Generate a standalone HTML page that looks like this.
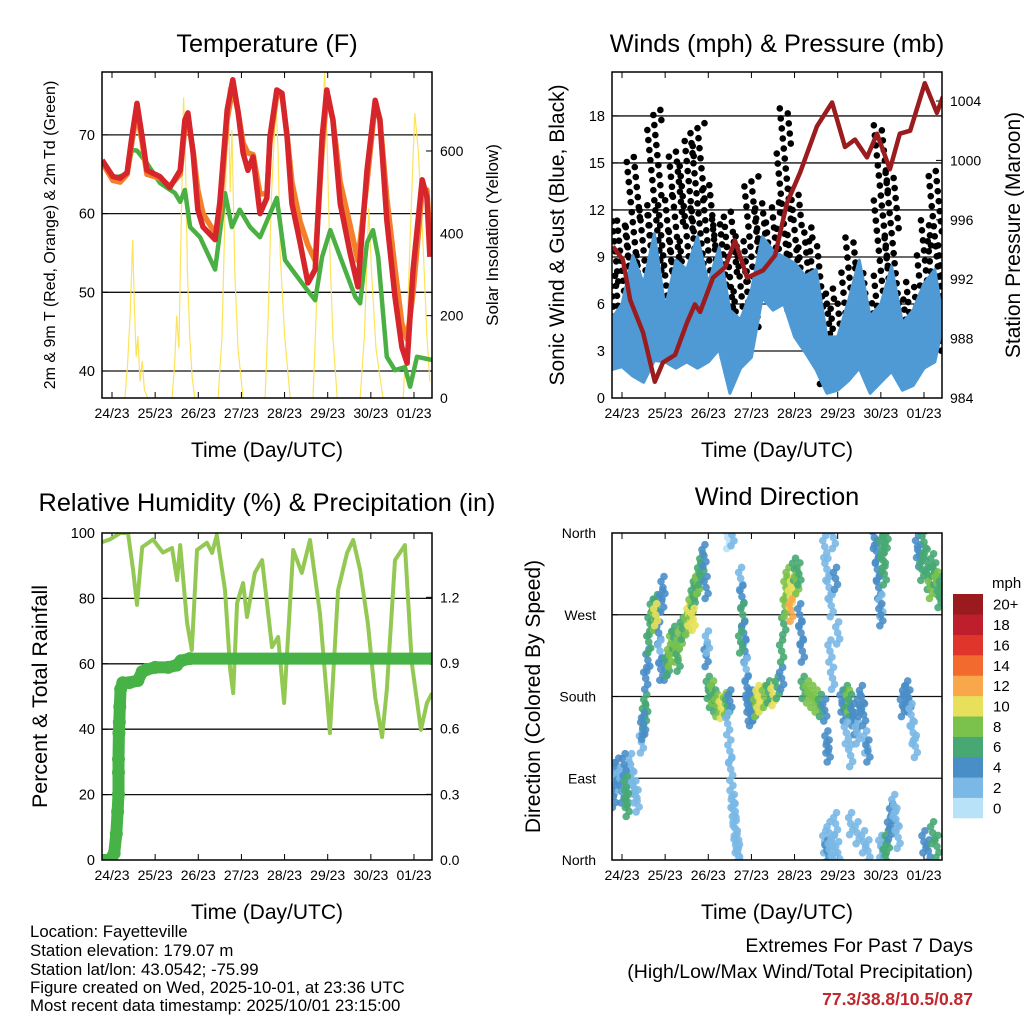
<!DOCTYPE html>
<html><head><meta charset="utf-8"><style>
html,body{margin:0;padding:0;background:#fff;}
svg{display:block;font-family:"Liberation Sans",Arial,sans-serif;}
</style></head><body>
<svg id="page" width="1024" height="1024" viewBox="0 0 1024 1024" xmlns="http://www.w3.org/2000/svg">
<defs>
<clipPath id="c1"><rect x="102" y="72" width="330" height="326"/></clipPath>
<clipPath id="c2"><rect x="612" y="72" width="330" height="326"/></clipPath>
<clipPath id="c3"><rect x="102" y="533" width="330" height="327"/></clipPath>
<clipPath id="c4"><rect x="612" y="533" width="330" height="327"/></clipPath>
</defs>
<rect width="1024" height="1024" fill="#fff"/>
<g id="layer"></g>
<g font-size="16.8" fill="#000">
<text x="30" y="937">Location: Fayetteville</text>
<text x="30" y="956">Station elevation: 179.07 m</text>
<text x="30" y="975">Station lat/lon: 43.0542; -75.99</text>
<text x="30" y="993">Figure created on Wed, 2025-10-01, at 23:36 UTC</text>
<text x="30" y="1011">Most recent data timestamp: 2025/10/01 23:15:00</text>
</g>
<g font-size="19.5" text-anchor="end">
<text x="973" y="952">Extremes For Past 7 Days</text>
<text x="973" y="978">(High/Low/Max Wind/Total Precipitation)</text>
<text x="973" y="1005" fill="#c0282d" font-weight="bold" font-size="17.5">77.3/38.8/10.5/0.87</text>
</g>
</svg>
<script>
// ---------- data ----------
const dayTicks = ['24/23','25/23','26/23','27/23','28/23','29/23','30/23','01/23'];
// Temperature (days since 24/23, degF)
const tempT = [-0.23,0.02,0.19,0.35,0.46,0.58,0.70,0.81,1.11,1.34,1.58,1.69,1.76,1.88,1.99,2.11,2.39,2.50,2.67,2.80,2.92,3.04,3.15,3.27,3.43,3.59,3.66,3.82,3.94,4.06,4.17,4.36,4.54,4.71,4.87,4.98,5.12,5.29,5.52,5.70,5.91,6.10,6.21,6.37,6.56,6.72,6.84,6.98,7.19,7.30,7.37];
const temp2m = [66.8,64.7,64.5,65.2,69.7,74,69.7,65.5,64.7,63.3,65.5,71.9,72.8,67.7,60.5,58.3,56.7,61.4,73.2,77,73,67.7,65.5,67.2,60,62,69.7,75.7,75.3,69.7,61.3,56.3,51.2,52.9,69.7,75.7,71.9,61.3,55,50.7,65.5,74.4,71.9,59.2,49.4,43,41,52.9,64.3,62.1,54.5];
const temp9m = [66.5,64.2,64.0,65,69,73,69,65,64.5,63.5,65,71,72,68,63,60,57.5,60,72,76,73,69,67.7,67.5,62.5,62.5,69,75,75,70,64,59,56,54,68,75,72,64,58.5,54,64,74,72,62,53,46,44,50,63,63,57];
const dewT = [-0.23,0.02,0.35,0.46,0.58,0.81,1.11,1.46,1.58,1.69,1.81,2.04,2.39,2.62,2.78,2.96,3.2,3.43,3.82,4.01,4.17,4.47,4.71,4.87,5.06,5.29,5.64,5.75,5.91,6.05,6.17,6.37,6.56,6.79,6.91,7.07,7.42];
const dewF = [66.4,64.5,65,68.1,68,66.4,63.9,62.6,61.5,63,58.3,57,52.9,62.6,58.3,60.5,58.3,57,62,54.1,52.9,50.7,49,54.5,57.9,54.5,49.4,48.6,56.3,57.9,54.5,41.8,40.1,40.5,38,41.8,41.4];
const solarT = [-0.23,0.3,0.36,0.42,0.48,0.52,0.56,0.6,0.65,0.7,0.75,0.83,1.39,1.45,1.5,1.55,1.6,1.66,1.7,1.75,1.8,1.86,1.92,2.46,2.55,2.62,2.69,2.74,2.78,2.85,2.92,3.04,3.55,3.62,3.7,3.8,3.85,3.9,4.0,4.13,4.66,4.75,4.85,4.93,4.98,5.05,5.12,5.22,5.75,5.85,5.95,6.02,6.12,6.28,6.75,6.85,6.95,7.02,7.1,7.2,7.3,7.37];
const solarW = [0,0,80,200,384,220,100,150,40,90,20,0,0,80,200,120,400,730,600,300,150,50,0,0,150,450,755,500,650,300,120,0,0,200,500,716,600,350,150,0,0,250,600,790,650,350,150,0,0,150,460,300,120,0,0,200,500,692,600,400,150,40];
// Winds (6-hourly, mph)
const windT = [-0.25,0,0.25,0.5,0.75,1,1.25,1.5,1.75,2,2.25,2.5,2.75,3,3.25,3.5,3.75,4,4.25,4.5,4.75,5,5.25,5.5,5.75,6,6.25,6.5,6.75,7,7.25,7.4];
const windMax = [5,6,9.1,7.3,10.5,5.7,8.8,8.2,10.3,7.3,9.6,5.6,5,6.9,10.3,9.4,9,8.6,7.8,8.2,3.9,3.9,6.2,8.8,5.2,6,8.4,4.8,5.6,7.3,8.2,5.7];
const windMin = [1.8,2,1.4,1,2.4,2.3,1.9,2.3,1.9,2.3,3.1,0.3,1.9,2.6,6.4,5.6,6,3.9,2.9,1.8,0.3,0.5,1.1,1.9,0.3,1,1.7,0.5,0.8,1.9,2.3,4.2];
const gustMax = [11.4,11.6,15.6,12,18.6,13.1,15.8,16.7,17.7,13.9,11.6,12,10.5,14.4,12.6,12.8,18.8,13.3,11.2,10.3,7.3,6.2,10.3,8.4,6.4,17.7,14.6,6.4,7.7,11.4,14.6,10.3];
const presT = [-0.21,0.02,0.19,0.49,0.76,0.95,1.23,1.51,1.69,1.81,2.11,2.39,2.62,2.90,3.27,3.55,3.82,4.13,4.52,4.87,5.17,5.40,5.68,5.91,6.21,6.44,6.68,7.02,7.30,7.44];
const presMb = [994.2,993.3,990.6,988.4,985.1,986.4,986.9,989.1,990.3,989.8,992.1,992.8,994.6,992.1,992.6,993.6,997.1,999.2,1002.3,1003.9,1000.9,1001.4,1000.2,1001.8,999.4,1001.8,1002,1005.2,1003.2,1004.3];
// RH & precip
const rhT = [-0.28,-0.05,0.19,0.37,0.49,0.58,0.7,0.95,1.18,1.39,1.51,1.58,1.74,1.85,1.97,2.2,2.32,2.43,2.62,2.74,2.81,2.9,3.04,3.13,3.31,3.48,3.71,3.85,3.99,4.2,4.4,4.59,4.82,5.05,5.24,5.45,5.59,5.75,5.93,6.1,6.26,6.37,6.56,6.79,6.95,7.16,7.3,7.42];
const rhPct = [97,98,100,100,88.7,78,95.7,98,94,95.4,85.6,96.3,72.5,64.2,94.8,97,93.9,99.4,82.6,58.1,51,78.6,84.7,74.3,87.8,91.7,65.1,68.2,48,94.8,87.8,97.9,75.5,38.8,82.6,93.9,97.9,88.7,72.5,49.8,37.6,52,91.7,96.3,60.2,39.8,48,51];
const rainT = [-0.28,-0.05,0.05,0.1,0.13,0.15,0.15,0.15,0.16,0.17,0.18,0.2,0.25,0.4,0.6,0.7,0.8,1.0,1.3,1.5,1.6,1.8,7.42];
const rainIn = [0,0,0.03,0.12,0.22,0.3,0.40,0.46,0.58,0.63,0.70,0.78,0.81,0.81,0.82,0.86,0.87,0.88,0.88,0.89,0.91,0.92,0.92];
// Wind direction points: time (days), direction (deg), speed (mph)
const dirT = [-0.25,-0.2,-0.15,-0.1,-0.05,0,0.05,0.1,0.12,0.15,0.2,0.25,0.3,0.35,0.05,-0.2,0.1,0.45,0.48,0.52,0.55,0.5,0.55,0.6,0.62,0.65,0.7,0.75,0.8,0.85,0.88,0.9,0.92,0.95,0.78,1.0,1.05,1.1,1.15,1.2,1.25,1.3,1.35,1.4,1.5,1.55,1.6,1.65,1.7,1.75,1.8,1.85,1.9,1.95,1.65,2.0,2.05,2.1,2.15,2.2,2.3,2.4,2.45,2.5,1.95,1.98,2.45,2.5,2.52,2.55,2.6,2.62,2.65,2.68,2.7,2.58,2.45,2.55,2.75,2.78,2.8,2.82,2.85,2.88,2.9,2.92,2.95,2.98,2.75,3.0,3.05,3.1,3.15,3.2,3.3,3.4,3.5,3.6,3.7,3.7,3.75,3.78,3.8,3.85,3.9,3.95,4.0,4.05,4.1,3.92,4.12,4.15,4.18,4.2,4.3,4.4,4.5,4.6,4.7,4.75,4.78,4.7,4.75,4.8,4.85,4.9,4.95,5.0,4.82,4.88,4.7,4.75,4.8,4.85,4.9,4.95,5.0,5.1,5.15,5.2,5.25,5.3,5.35,5.4,5.45,5.5,5.55,5.6,5.65,5.7,5.2,5.3,5.3,5.45,5.6,5.7,5.85,5.9,5.92,5.95,6.0,6.02,6.05,6.08,6.1,6.12,6.0,6.0,6.05,6.1,6.15,6.2,6.25,6.3,6.35,6.4,6.5,6.55,6.6,6.65,6.7,6.75,6.8,6.85,6.9,6.95,7.0,7.05,7.1,7.15,7.2,7.25,7.3,7.35,7.4,7.0,7.1,7.2,7.3];
const dirDeg = [80,95,85,100,90,75,88,70,60,95,105,85,75,65,105,70,80,130,145,160,170,150,200,220,240,260,275,265,280,250,230,210,285,300,270,210,215,225,240,245,230,220,245,255,260,270,280,290,300,305,315,325,335,300,265,190,180,185,175,170,168,172,170,175,225,240,150,120,100,70,50,35,20,10,5,60,355,358,310,290,270,250,230,210,190,175,165,160,240,175,165,170,180,175,180,185,182,190,200,230,260,280,300,310,290,300,320,305,315,275,270,250,230,190,185,180,175,170,165,130,120,345,320,300,280,355,310,250,230,200,20,10,30,5,15,40,8,175,165,180,175,170,160,150,140,170,180,160,130,120,140,115,40,30,20,10,355,340,320,300,280,345,330,315,350,360,270,15,10,5,20,35,50,60,45,25,170,180,185,175,160,140,125,345,335,320,350,330,310,300,325,315,305,290,300,20,10,30,15];
const dirSpd = [3,4,2,4,3,4,2,6,6,3,2,3,2,2,4,4,6,2,4,6,6,4,4,4,6,6,6,8,6,4,2,4,4,4,10,4,6,8,8,6,8,6,8,6,8,10,8,6,6,8,6,6,4,4,10,6,6,8,6,8,10,8,6,4,4,2,2,2,2,2,2,3,3,2,3,2,1,2,2,4,6,4,4,2,4,4,4,4,6,4,4,8,10,10,8,6,10,6,4,6,6,8,8,8,10,10,6,8,6,12,4,4,4,6,8,8,8,6,4,4,4,2,2,2,2,2,4,2,2,2,2,4,2,3,2,2,3,4,4,6,8,6,4,4,2,4,4,4,2,4,3,2,2,2,2,2,4,4,4,4,3,6,6,6,6,6,4,2,3,6,6,4,4,3,2,3,4,4,4,4,3,2,2,4,4,6,6,6,6,8,6,6,8,6,6,4,4,6,6];
// colorbar
const cbLabels = ['0','2','4','6','8','10','12','14','16','18','20+'];
const cbColors = ['#b8e2f8','#7ab8e5','#4a8ec8','#47a874','#7bc24c','#e8e05a','#f8a84a','#f26a2d','#e0352b','#bf1e2d','#9b1a1e'];

// ---------- helpers ----------
const NS='http://www.w3.org/2000/svg';
const layer=document.getElementById('layer');
function mk(tag,attrs,parent){const e=document.createElementNS(NS,tag);for(const k in attrs)e.setAttribute(k,attrs[k]);(parent||layer).appendChild(e);return e;}
const PXD=43.14;
function xL(d){return 112+d*PXD;}
function xR(d){return 622+d*PXD;}
const yTemp=v=>371-(v-40)*7.87;
const ySolar=v=>398-v*0.4117;
const yWind=v=>398-v*15.67;
const yPres=v=>398-(v-984)*14.85;
const yRH=v=>860-v*3.27;
const yRain=v=>860-v*218.9;
const yDir=v=>860-v*(327/360);
function pathOf(ts,vs,fx,fy){return ts.map((t,i)=>(i?'L':'M')+fx(t).toFixed(1)+','+fy(vs[i]).toFixed(1)).join(' ');}

function panel(opts){
  const g=mk('g',{});
  
  
  const {L,T,R,B}=opts;
  opts.grid.forEach(y=>{const l=mk('line',{x1:L,x2:R,y1:y,y2:y,stroke:'#111','stroke-width':1.3},g);
    });
  const t=mk('text',{x:(L+R)/2,y:opts.titleY,'text-anchor':'middle','font-size':25.3},g);t.textContent=opts.title;
  
  const xt=mk('text',{x:(L+R)/2,y:B+59,'text-anchor':'middle','font-size':21},g);xt.textContent='Time (Day/UTC)';
  
  dayTicks.forEach((lab,i)=>{const x=opts.fx(i);
    mk('line',{x1:x,x2:x,y1:B,y2:B-6,stroke:'#000'},g);mk('line',{x1:x,x2:x,y1:T,y2:T+6,stroke:'#000'},g);
    const tx=mk('text',{x:x,y:B+20,'text-anchor':'middle','font-size':14},g);tx.textContent=lab;
    });
  opts.lt.forEach(([v,lab])=>{const y=opts.fyl(v);
    mk('line',{x1:L,x2:L+6,y1:y,y2:y,stroke:'#000'},g);
    const tx=mk('text',{x:L-(opts.ltGap||7),y:y+5,'text-anchor':'end','font-size':opts.ltSize||14.5},g);tx.textContent=lab;
    });
  if(opts.rt) opts.rt.forEach(([v,lab])=>{const y=opts.fyr(v);
    mk('line',{x1:R,x2:R-6,y1:y,y2:y,stroke:'#000'},g);
    const tx=mk('text',{x:R+8,y:y+5,'text-anchor':'start','font-size':14},g);tx.textContent=lab;
    });
  const yl=mk('text',{transform:`translate(${opts.ylX},${(T+B)/2}) rotate(-90)`,'text-anchor':'middle','font-size':opts.ylSize},g);yl.textContent=opts.yl;
  
  if(opts.yr){const yr=mk('text',{transform:`translate(${opts.yrX},${(T+B)/2}) rotate(-90)`,'text-anchor':'middle','font-size':opts.yrSize},g);yr.textContent=opts.yr;
    }
  const data=mk('g',{'clip-path':`url(#${opts.clip})`},g);
  
  return {g,data};
}
function frame(g,L,T,R,B){const f=mk('rect',{x:L,y:T,width:R-L,height:B-T,fill:'none',stroke:'#000','stroke-width':1.5},g);
  }

// ---------- Panel 1: temperature ----------
{
const p=panel({name:'temperature-panel',L:102,T:72,R:432,B:398,clip:'c1',title:'Temperature (F)',titleY:52,fx:xL,
  grid:[40,50,60,70].map(yTemp),fyl:yTemp,lt:[[40,'40'],[50,'50'],[60,'60'],[70,'70']],
  fyr:ySolar,rt:[[0,'0'],[200,'200'],[400,'400'],[600,'600']],
  yl:'2m & 9m T (Red, Orange) & 2m Td (Green)',ylX:55,ylSize:16,yr:'Solar Insolation (Yellow)',yrX:498,yrSize:17});
const s=mk('path',{d:pathOf(solarT,solarW,xL,ySolar),fill:'none',stroke:'#fde35a','stroke-width':1.2},p.data);

const dw=mk('path',{d:pathOf(dewT,dewF,xL,yTemp),fill:'none',stroke:'#4bb043','stroke-width':4.5,'stroke-linejoin':'round'},p.data);

const o=mk('path',{d:pathOf(tempT,temp9m,xL,yTemp),fill:'none',stroke:'#f47f2a','stroke-width':5.5,'stroke-linejoin':'round'},p.data);

const r=mk('path',{d:pathOf(tempT,temp2m,xL,yTemp),fill:'none',stroke:'#d6252b','stroke-width':5.5,'stroke-linejoin':'round'},p.data);

frame(p.g,102,72,432,398);
}
// ---------- Panel 2: winds ----------
{
const p=panel({name:'winds-panel',L:612,T:72,R:942,B:398,clip:'c2',title:'Winds (mph) & Pressure (mb)',titleY:52,fx:xR,
  grid:[3,6,9,12,15,18].map(yWind),fyl:yWind,lt:[0,3,6,9,12,15,18].map(v=>[v,String(v)]),
  fyr:yPres,rt:[984,988,992,996,1000,1004].map(v=>[v,String(v)]),
  yl:'Sonic Wind & Gust (Blue, Black)',ylX:564,ylSize:21,yr:'Station Pressure (Maroon)',yrX:1020,yrSize:21});
windT.forEach((t,i)=>{
  const lo=Math.min(windMax[i],gustMax[i])-3;
  let j=0;
  for(let v=lo;v<=gustMax[i];v+=0.32){
    const c=mk('circle',{cx:xR(t)+((j*7)%15-7),cy:yWind(v),r:3.3,fill:'#000'},p.data);
    j++;}
});
const top=windT.map((t,i)=>[xR(t),yWind(windMax[i])]);
const bot=windT.map((t,i)=>[xR(t),yWind(windMin[i])]).reverse();
const wb=mk('path',{d:'M'+top.concat(bot).map(p=>p[0].toFixed(1)+','+p[1].toFixed(1)).join(' L')+'Z',fill:'#4f9ad4',stroke:'#4f9ad4','stroke-width':3,'stroke-linejoin':'round'},p.data);

const pr=mk('path',{d:pathOf(presT,presMb,xR,yPres),fill:'none',stroke:'#9b1c1f','stroke-width':4.5,'stroke-linejoin':'round'},p.data);

frame(p.g,612,72,942,398);
}
// ---------- Panel 3: RH & precip ----------
{
const p=panel({name:'humidity-panel',L:102,T:533,R:432,B:860,clip:'c3',title:'Relative Humidity (%) & Precipitation (in)',titleY:511,fx:xL,
  grid:[20,40,60,80].map(yRH),fyl:yRH,lt:[0,20,40,60,80,100].map(v=>[v,String(v)]),
  fyr:yRain,rt:[[0,'0.0'],[0.3,'0.3'],[0.6,'0.6'],[0.9,'0.9'],[1.2,'1.2']],
  yl:'Percent & Total Rainfall',ylX:47,ylSize:21.5});
const rh=mk('path',{d:pathOf(rhT,rhPct,xL,yRH),fill:'none',stroke:'#93c953','stroke-width':4,'stroke-linejoin':'round'},p.data);

const rn=mk('path',{d:pathOf(rainT,rainIn,xL,yRain),fill:'none',stroke:'#47b347','stroke-width':12,'stroke-linejoin':'round','stroke-linecap':'round'},p.data);

rainT.forEach((t,i)=>{const c=mk('circle',{cx:xL(t),cy:yRain(rainIn[i]),r:6.5,fill:'#47b347'},p.data);
  });
frame(p.g,102,533,432,860);
}
// ---------- Panel 4: wind direction ----------
{
const p=panel({name:'wind-direction-panel',L:612,T:533,R:942,B:860,clip:'c4',title:'Wind Direction',titleY:505,fx:xR,
  grid:[90,180,270].map(yDir),fyl:yDir,lt:[[0,'North'],[90,'East'],[180,'South'],[270,'West'],[360,'North']],ltSize:14,ltGap:16,
  yl:'Direction (Colored By Speed)',ylX:540,ylSize:21});
const offs=[[0,0],[-2,-6],[2,6],[1,-11],[-1,11]];
dirT.forEach((t,i)=>{const bin=Math.min(10,Math.max(0,Math.floor(dirSpd[i]/2)));
  offs.forEach(([dx,dy])=>{
  const c=mk('circle',{cx:xR(t)+dx,cy:yDir(dirDeg[i])+dy,r:3.8,fill:cbColors[bin],'fill-opacity':0.9},p.data);
  });});
frame(p.g,612,533,942,860);
const cb=mk('g',{});
const h=224/cbLabels.length;
cbLabels.forEach((lab,i)=>{const y=818-(i+1)*h;
  const r=mk('rect',{x:953,y:y,width:30,height:h+0.3,fill:cbColors[i]},cb);
  
  const tx=mk('text',{x:993,y:y+h/2+5.5,'font-size':15},cb);tx.textContent=lab;
  });
const u=mk('text',{x:992,y:588,'font-size':15},cb);u.textContent='mph';

}
</script>
</body></html>
